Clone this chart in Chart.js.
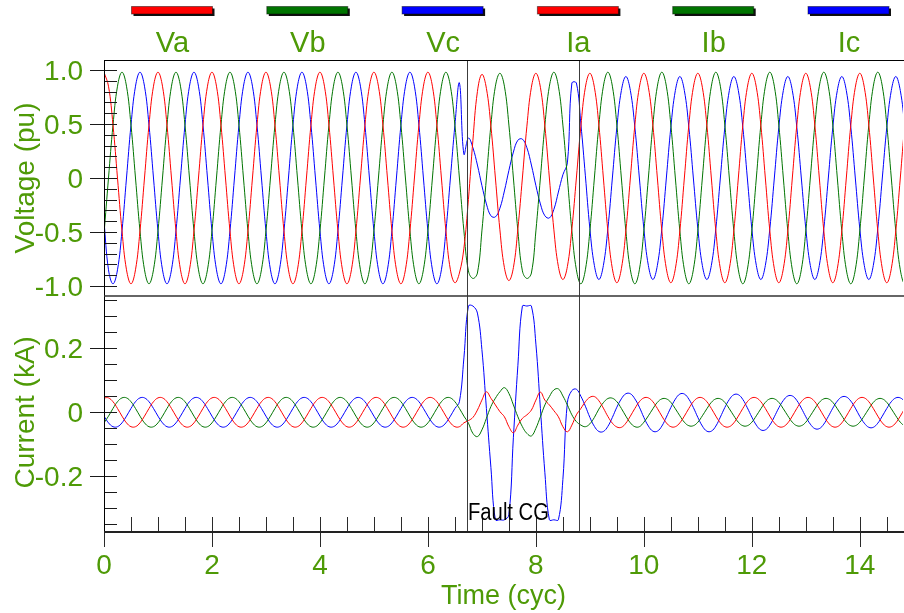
<!DOCTYPE html>
<html>
<head>
<meta charset="utf-8">
<script src="https://cdn.jsdelivr.net/npm/chart.js@4.4.1/dist/chart.umd.min.js"></script>
<style>
html, body { margin: 0; padding: 0; background: #ffffff; }
canvas { display: block; }
</style>
</head>
<body>
<canvas id="scope" width="904" height="613"></canvas>
<script>
// Phase voltages (pu) and line currents (kA), sampled 12 times per cycle.
const SAMPLES_PER_CYCLE = 12;

const seriesNames = ['Va', 'Vb', 'Vc', 'Ia', 'Ib', 'Ic'];
const seriesColors = ['#ff0000', '#007400', '#0000ff', '#ff0000', '#007400', '#0000ff'];

const Va = [
  0.98, 0.85, 0.49, 0, -0.49, -0.85, -0.98, -0.85, -0.49, 0, 0.49, 0.85,
  0.98, 0.85, 0.49, 0, -0.49, -0.85, -0.98, -0.85, -0.49, 0, 0.49, 0.85,
  0.98, 0.85, 0.49, 0, -0.49, -0.85, -0.98, -0.85, -0.49, 0, 0.49, 0.85,
  0.98, 0.85, 0.49, 0, -0.49, -0.85, -0.98, -0.85, -0.49, 0, 0.49, 0.85,
  0.98, 0.85, 0.49, 0, -0.49, -0.85, -0.98, -0.85, -0.49, 0, 0.49, 0.85,
  0.98, 0.85, 0.49, 0, -0.49, -0.85, -0.98, -0.85, -0.49, 0, 0.49, 0.85,
  0.98, 0.85, 0.49, 0, -0.49, -0.85, -0.97, -0.88, -0.65, -0.2, 0.35, 0.8,
  0.96, 0.83, 0.48, 0, -0.48, -0.83, -0.95, -0.83, -0.47, 0, 0.48, 0.84,
  0.97, 0.84, 0.48, 0, -0.48, -0.82, -0.94, -0.82, -0.47, 0, 0.48, 0.84,
  0.97, 0.84, 0.49, 0, -0.49, -0.84, -0.97, -0.84, -0.49, 0, 0.49, 0.84,
  0.97, 0.84, 0.49, 0, -0.49, -0.84, -0.97, -0.84, -0.49, 0, 0.49, 0.84,
  0.97, 0.84, 0.49, 0, -0.49, -0.84, -0.97, -0.84, -0.49, 0, 0.49, 0.84,
  0.97, 0.84, 0.49, 0, -0.49, -0.84, -0.97, -0.84, -0.49, 0, 0.49, 0.84,
  0.97, 0.84, 0.49, 0, -0.49, -0.84, -0.97, -0.84, -0.49, 0, 0.49, 0.84,
  0.97, 0.84, 0.49, 0, -0.49, -0.84, -0.97, -0.84, -0.49, 0, 0.49, 0.84,
  0.97
];

const Vb = [
  -0.52, 0, 0.49, 0.85, 0.98, 0.85, 0.49, 0, -0.49, -0.85, -0.98, -0.85,
  -0.49, 0, 0.49, 0.85, 0.98, 0.85, 0.49, 0, -0.49, -0.85, -0.98, -0.85,
  -0.49, 0, 0.49, 0.85, 0.98, 0.85, 0.49, 0, -0.49, -0.85, -0.98, -0.85,
  -0.49, 0, 0.49, 0.85, 0.98, 0.85, 0.49, 0, -0.49, -0.85, -0.98, -0.85,
  -0.49, 0, 0.49, 0.85, 0.98, 0.85, 0.49, 0, -0.49, -0.85, -0.98, -0.85,
  -0.49, 0, 0.49, 0.85, 0.98, 0.85, 0.49, 0, -0.49, -0.85, -0.98, -0.85,
  -0.49, 0, 0.49, 0.85, 0.98, 0.85, 0.49, 0, -0.49, -0.86, -0.93, -0.88,
  -0.49, 0, 0.49, 0.85, 0.97, 0.85, 0.49, 0, -0.49, -0.86, -0.93, -0.88,
  -0.49, 0, 0.49, 0.85, 0.98, 0.85, 0.49, 0, -0.49, -0.85, -0.98, -0.85,
  -0.49, 0, 0.49, 0.85, 0.98, 0.85, 0.49, 0, -0.49, -0.85, -0.98, -0.85,
  -0.49, 0, 0.49, 0.85, 0.98, 0.85, 0.49, 0, -0.49, -0.85, -0.98, -0.85,
  -0.49, 0, 0.49, 0.85, 0.98, 0.85, 0.49, 0, -0.49, -0.85, -0.98, -0.85,
  -0.49, 0, 0.49, 0.85, 0.98, 0.85, 0.49, 0, -0.49, -0.85, -0.98, -0.85,
  -0.49, 0, 0.49, 0.85, 0.98, 0.85, 0.49, 0, -0.49, -0.85, -0.98, -0.85,
  -0.49, 0, 0.49, 0.85, 0.98, 0.85, 0.49, 0, -0.49, -0.85, -0.98, -0.85,
  -0.49
];

const Vc = [
  -0.4, -0.85, -0.98, -0.85, -0.49, 0, 0.49, 0.85, 0.98, 0.85, 0.49, 0,
  -0.49, -0.85, -0.98, -0.85, -0.49, 0, 0.49, 0.85, 0.98, 0.85, 0.49, 0,
  -0.49, -0.85, -0.98, -0.85, -0.49, 0, 0.49, 0.85, 0.98, 0.85, 0.49, 0,
  -0.49, -0.85, -0.98, -0.85, -0.49, 0, 0.49, 0.85, 0.98, 0.85, 0.49, 0,
  -0.49, -0.85, -0.98, -0.85, -0.49, 0, 0.49, 0.85, 0.98, 0.85, 0.49, 0,
  -0.49, -0.85, -0.98, -0.85, -0.49, 0, 0.49, 0.85, 0.98, 0.85, 0.49, 0,
  -0.49, -0.85, -0.98, -0.85, -0.49, 0, 0.49, 0.88, 0.22, 0.37, 0.28, 0.12,
  -0.07, -0.24, -0.35, -0.36, -0.28, -0.12, 0.07, 0.24, 0.35, 0.36, 0.28, 0.12,
  -0.07, -0.24, -0.35, -0.37, -0.29, -0.13, 0.03, 0.14, 0.88, 0.88, 0.5, 0.02,
  -0.47, -0.81, -0.94, -0.81, -0.47, 0, 0.47, 0.81, 0.94, 0.81, 0.47, 0,
  -0.47, -0.81, -0.94, -0.81, -0.47, 0, 0.47, 0.81, 0.94, 0.81, 0.47, 0,
  -0.47, -0.81, -0.94, -0.81, -0.47, 0, 0.47, 0.81, 0.94, 0.81, 0.47, 0,
  -0.47, -0.81, -0.94, -0.81, -0.47, 0, 0.47, 0.81, 0.94, 0.81, 0.47, 0,
  -0.47, -0.81, -0.94, -0.81, -0.47, 0, 0.47, 0.81, 0.94, 0.81, 0.47, 0,
  -0.47, -0.81, -0.94, -0.81, -0.47, 0, 0.47, 0.81, 0.94, 0.81, 0.47, 0,
  -0.47
];

const Ia = [
  0.045, 0.045, 0.033, 0.012, -0.012, -0.033, -0.045, -0.045, -0.033, -0.012, 0.012, 0.033,
  0.045, 0.045, 0.033, 0.012, -0.012, -0.033, -0.045, -0.045, -0.033, -0.012, 0.012, 0.033,
  0.045, 0.045, 0.033, 0.012, -0.012, -0.033, -0.045, -0.045, -0.033, -0.012, 0.012, 0.033,
  0.045, 0.045, 0.033, 0.012, -0.012, -0.033, -0.045, -0.045, -0.033, -0.012, 0.012, 0.033,
  0.045, 0.045, 0.033, 0.012, -0.012, -0.033, -0.045, -0.045, -0.033, -0.012, 0.012, 0.033,
  0.045, 0.045, 0.033, 0.012, -0.012, -0.033, -0.045, -0.045, -0.033, -0.012, 0.012, 0.033,
  0.045, 0.045, 0.033, 0.012, -0.012, -0.033, -0.045, -0.045, -0.033, -0.026, -0.016, 0.007,
  0.038, 0.064, 0.044, 0.023, 0.002, -0.014, -0.045, -0.064, -0.04, -0.019, -0.008, 0.007,
  0.038, 0.063, 0.038, 0.023, 0.005, -0.014, -0.045, -0.061, -0.04, -0.008, 0.012, 0.033,
  0.047, 0.049, 0.036, 0.013, -0.013, -0.034, -0.046, -0.047, -0.034, -0.012, 0.012, 0.033,
  0.045, 0.045, 0.033, 0.012, -0.012, -0.033, -0.045, -0.045, -0.033, -0.012, 0.012, 0.033,
  0.045, 0.045, 0.033, 0.012, -0.012, -0.033, -0.045, -0.045, -0.033, -0.012, 0.012, 0.033,
  0.045, 0.045, 0.033, 0.012, -0.012, -0.033, -0.045, -0.045, -0.033, -0.012, 0.012, 0.033,
  0.045, 0.045, 0.033, 0.012, -0.012, -0.033, -0.045, -0.045, -0.033, -0.012, 0.012, 0.033,
  0.045, 0.045, 0.033, 0.012, -0.012, -0.033, -0.045, -0.045, -0.033, -0.012, 0.012, 0.033,
  0.045
];

const Ib = [
  -0.033, -0.012, 0.012, 0.033, 0.045, 0.045, 0.033, 0.012, -0.012, -0.033, -0.045, -0.045,
  -0.033, -0.012, 0.012, 0.033, 0.045, 0.045, 0.033, 0.012, -0.012, -0.033, -0.045, -0.045,
  -0.033, -0.012, 0.012, 0.033, 0.045, 0.045, 0.033, 0.012, -0.012, -0.033, -0.045, -0.045,
  -0.033, -0.012, 0.012, 0.033, 0.045, 0.045, 0.033, 0.012, -0.012, -0.033, -0.045, -0.045,
  -0.033, -0.012, 0.012, 0.033, 0.045, 0.045, 0.033, 0.012, -0.012, -0.033, -0.045, -0.045,
  -0.033, -0.012, 0.012, 0.033, 0.045, 0.045, 0.033, 0.012, -0.012, -0.033, -0.045, -0.045,
  -0.033, -0.012, 0.012, 0.033, 0.045, 0.045, 0.033, 0.012, -0.012, -0.034, -0.066, -0.076,
  -0.055, -0.019, 0.018, 0.044, 0.064, 0.077, 0.059, 0.023, -0.014, -0.045, -0.066, -0.074,
  -0.05, -0.014, 0.023, 0.049, 0.07, 0.073, 0.051, 0.023, -0.008, -0.029, -0.04, -0.045,
  -0.036, -0.016, 0.01, 0.03, 0.043, 0.044, 0.033, 0.012, -0.012, -0.033, -0.045, -0.045,
  -0.031, -0.011, 0.011, 0.031, 0.042, 0.042, 0.031, 0.011, -0.011, -0.031, -0.042, -0.042,
  -0.031, -0.011, 0.011, 0.031, 0.042, 0.042, 0.031, 0.011, -0.011, -0.031, -0.042, -0.042,
  -0.031, -0.011, 0.011, 0.031, 0.042, 0.042, 0.031, 0.011, -0.011, -0.031, -0.042, -0.042,
  -0.031, -0.011, 0.011, 0.031, 0.042, 0.042, 0.031, 0.011, -0.011, -0.031, -0.042, -0.042,
  -0.031, -0.011, 0.011, 0.031, 0.042, 0.042, 0.031, 0.011, -0.011, -0.031, -0.042, -0.042,
  -0.031
];

const Ic = [
  -0.012, -0.033, -0.045, -0.045, -0.033, -0.012, 0.012, 0.033, 0.045, 0.045, 0.033, 0.012,
  -0.012, -0.033, -0.045, -0.045, -0.033, -0.012, 0.012, 0.033, 0.045, 0.045, 0.033, 0.012,
  -0.012, -0.033, -0.045, -0.045, -0.033, -0.012, 0.012, 0.033, 0.045, 0.045, 0.033, 0.012,
  -0.012, -0.033, -0.045, -0.045, -0.033, -0.012, 0.012, 0.033, 0.045, 0.045, 0.033, 0.012,
  -0.012, -0.033, -0.045, -0.045, -0.033, -0.012, 0.012, 0.033, 0.045, 0.045, 0.033, 0.012,
  -0.012, -0.033, -0.045, -0.045, -0.033, -0.012, 0.012, 0.033, 0.045, 0.045, 0.033, 0.012,
  -0.012, -0.033, -0.045, -0.045, -0.033, -0.012, 0.012, 0.033, 0.17, 0.332, 0.332, 0.31,
  0.196, 0.012, -0.172, -0.336, -0.336, -0.336, -0.32, -0.078, 0.147, 0.332, 0.332, 0.332,
  0.213, 0.012, -0.189, -0.336, -0.336, -0.336, -0.21, 0.03, 0.068, 0.072, 0.05, 0.019,
  -0.016, -0.044, -0.06, -0.06, -0.044, -0.016, 0.016, 0.042, 0.058, 0.058, 0.042, 0.016,
  -0.016, -0.043, -0.059, -0.059, -0.043, -0.015, 0.015, 0.041, 0.057, 0.057, 0.041, 0.015,
  -0.016, -0.043, -0.059, -0.059, -0.043, -0.015, 0.015, 0.04, 0.055, 0.055, 0.04, 0.014,
  -0.015, -0.04, -0.055, -0.055, -0.04, -0.014, 0.014, 0.037, 0.051, 0.051, 0.037, 0.013,
  -0.014, -0.037, -0.051, -0.051, -0.037, -0.013, 0.013, 0.035, 0.048, 0.048, 0.035, 0.013,
  -0.013, -0.034, -0.047, -0.047, -0.034, -0.012, 0.012, 0.033, 0.045, 0.045, 0.033, 0.012,
  -0.012
];

const voltTickValues = [-1, -0.5, 0, 0.5, 1];
const voltTickLabels = ['-1.0', '-0.5', '0', '0.5', '1.0'];
const currTickValues = [-0.2, 0, 0.2];
const currTickLabels = ['-0.2', '0', '0.2'];
const timeTickValues = [0, 2, 4, 6, 8, 10, 12, 14];
const timeTickLabels = ['0', '2', '4', '6', '8', '10', '12', '14'];

const faultTimes = [6.72, 8.79];
const faultLabel = 'Fault CG';

const axisTitles = { voltage: 'Voltage (pu)', current: 'Current (kA)', time: 'Time (cyc)' };

const GREEN_TEXT = '#4e9a06';
const FONT_FAMILY = "'Liberation Sans', Arial, Helvetica, sans-serif";

function toPoints(values) {
  return values.map((v, k) => ({ x: k / SAMPLES_PER_CYCLE, y: v }));
}

const seriesValues = [Va, Vb, Vc, Ia, Ib, Ic];
const datasets = seriesValues.map((vals, i) => ({
  label: seriesNames[i],
  data: toPoints(vals),
  yAxisID: i < 3 ? 'yV' : 'yI',
  borderColor: seriesColors[i],
  backgroundColor: seriesColors[i],
  borderWidth: 1,
  pointRadius: 0,
  tension: 0.4,
  fill: false
}));

// Frame, in-plot tick marks, fault markers, legend and axis titles.
const scopeDecor = {
  id: 'scopeDecor',
  afterDraw(chart) {
    const { ctx, chartArea: a, scales } = chart;
    const xs = scales.x, yV = scales.yV, yI = scales.yI;
    ctx.save();

    const seg = (x1, y1, x2, y2) => { ctx.beginPath(); ctx.moveTo(x1, y1); ctx.lineTo(x2, y2); ctx.stroke(); };

    // fault markers
    ctx.strokeStyle = '#3c3c3c';
    ctx.lineWidth = 1;
    faultTimes.forEach(t => {
      const px = Math.round(xs.getPixelForValue(t)) + 0.5;
      seg(px, a.top, px, a.bottom);
    });

    // vertical-axis ticks: minor inside, labelled ones also outside
    const yTicks = (scale, from, to, step, majorStep) => {
      const n = Math.round((to - from) / step);
      for (let i = 0; i <= n; i++) {
        const v = from + i * step;
        const r = v / majorStep;
        const major = Math.abs(r - Math.round(r)) < 1e-6;
        const py = Math.round(scale.getPixelForValue(v)) + 0.5;
        seg(a.left - (major ? 14 : 0), py, a.left + 13, py);
      }
    };
    ctx.strokeStyle = '#1a1a1a';
    ctx.lineWidth = 1;
    yTicks(yV, -1.0, 1.0, 0.1, 0.5);
    yTicks(yI, -0.35, 0.35, 0.05, 0.2);

    // time-axis ticks
    ctx.strokeStyle = '#2a2a2a';
    const nx = Math.round(14.5 / 0.5);
    for (let i = 0; i <= nx; i++) {
      const v = i * 0.5;
      const major = i % 4 === 0;
      const px = Math.round(xs.getPixelForValue(v)) + 0.5;
      seg(px, a.bottom - 15, px, a.bottom + (major ? 15 : 0));
    }

    // frame
    ctx.strokeStyle = '#000000';
    ctx.lineWidth = 1;
    seg(a.left, a.top + 0.5, a.right + 1, a.top + 0.5);
    seg(a.left + 0.5, a.top, a.left + 0.5, a.bottom);
    ctx.strokeStyle = '#333333';
    ctx.lineWidth = 1.5;
    seg(a.left, yV.bottom, a.right + 1, yV.bottom);
    ctx.strokeStyle = '#222222';
    ctx.lineWidth = 2;
    seg(a.left, a.bottom, a.right + 1, a.bottom);

    // fault label
    ctx.fillStyle = '#000000';
    ctx.font = '23px ' + FONT_FAMILY;
    ctx.textAlign = 'left';
    ctx.textBaseline = 'alphabetic';
    const fx = Math.round(xs.getPixelForValue(faultTimes[0])) + 1;
    ctx.save();
    ctx.translate(fx, 520);
    ctx.scale(0.88, 1);
    ctx.fillText(faultLabel, 0, 0);
    ctx.restore();

    // legend: bar above each series name
    const step = 135.3;
    chart.data.datasets.forEach((ds, i) => {
      const cx = 172.5 + i * step;
      const bx = cx - 41, by = 6.5, bw = 81, bh = 7.5;
      ctx.fillStyle = '#111111';
      ctx.fillRect(bx + 2, by + 2, bw, bh);
      ctx.fillStyle = ds.borderColor;
      ctx.fillRect(bx, by, bw, bh);
      ctx.strokeStyle = 'rgba(0,0,0,0.45)';
      ctx.lineWidth = 1;
      ctx.strokeRect(bx, by, bw, bh);
      ctx.fillStyle = GREEN_TEXT;
      ctx.font = '29px ' + FONT_FAMILY;
      ctx.textAlign = 'center';
      ctx.fillText(ds.label, cx, 52);
    });

    // axis titles
    ctx.fillStyle = GREEN_TEXT;
    ctx.font = '28px ' + FONT_FAMILY;
    ctx.textAlign = 'center';
    ctx.textBaseline = 'alphabetic';
    const vTitle = (text, cy) => {
      ctx.save();
      ctx.translate(34, cy);
      ctx.rotate(-Math.PI / 2);
      ctx.fillText(text, 0, 0);
      ctx.restore();
    };
    vTitle(axisTitles.voltage, yV.getPixelForValue(0));
    vTitle(axisTitles.current, yI.getPixelForValue(0));
    ctx.font = '27px ' + FONT_FAMILY;
    ctx.fillText(axisTitles.time, (a.left + a.right) / 2, 604);

    ctx.restore();
  }
};

const tickFont = { family: FONT_FAMILY, size: 28 };

new Chart(document.getElementById('scope'), {
  type: 'line',
  data: { datasets },
  options: {
    responsive: false,
    animation: false,
    devicePixelRatio: 1,
    events: [],
    layout: { padding: { top: 60, right: 1, left: 0, bottom: 0 } },
    plugins: { legend: { display: false }, tooltip: { enabled: false }, title: { display: false } },
    scales: {
      x: {
        type: 'linear',
        position: 'bottom',
        min: 0,
        max: 14.8,
        afterBuildTicks: s => { s.ticks = timeTickValues.map(v => ({ value: v })); },
        afterFit: s => { s.height = 81; },
        grid: { display: false, drawTicks: false },
        border: { display: false },
        ticks: {
          callback: (v, i) => timeTickLabels[i],
          color: GREEN_TEXT,
          font: tickFont,
          padding: 17,
          maxRotation: 0,
          autoSkip: false
        }
      },
      yI: {
        type: 'linear',
        position: 'left',
        stack: 'panels',
        stackWeight: 1,
        weight: 0,
        min: -0.3741,
        max: 0.3634,
        afterBuildTicks: s => { s.ticks = currTickValues.map(v => ({ value: v })); },
        afterFit: s => { s.width = 104; },
        grid: { display: false, drawTicks: false },
        border: { display: false },
        ticks: { callback: (v, i) => currTickLabels[i], color: GREEN_TEXT, font: tickFont, padding: 21, labelOffset: 2, autoSkip: false }
      },
      yV: {
        type: 'linear',
        position: 'left',
        stack: 'panels',
        stackWeight: 1,
        weight: 1,
        min: -1.0926,
        max: 1.0926,
        afterBuildTicks: s => { s.ticks = voltTickValues.map(v => ({ value: v })); },
        afterFit: s => { s.width = 104; },
        grid: { display: false, drawTicks: false },
        border: { display: false },
        ticks: { callback: (v, i) => voltTickLabels[i], color: GREEN_TEXT, font: tickFont, padding: 21, labelOffset: 2, autoSkip: false }
      }
    }
  },
  plugins: [scopeDecor]
});
</script>
</body>
</html>
